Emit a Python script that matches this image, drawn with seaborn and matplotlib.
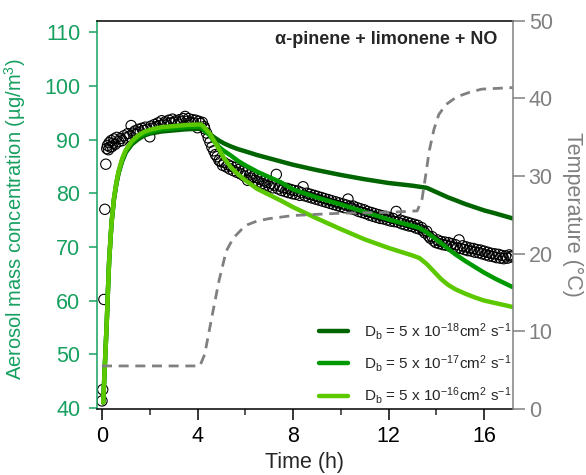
import numpy as np
import pandas as pd
import seaborn as sns
import matplotlib.pyplot as plt
from matplotlib.lines import Line2D

# measured aerosol mass (open circles)
obs_time = [0.00, 0.03, 0.08, 0.12, 0.16, 0.20, 0.23, 0.27, 0.30, 0.34, 0.38, 0.42, 0.46, 0.50,
            0.55, 0.62, 0.70, 0.78, 0.85, 0.92, 1.00, 1.08, 1.15, 1.22, 1.30, 1.38, 1.45, 1.52,
            1.60, 1.68, 1.75, 1.82, 1.90, 2.00, 2.05, 2.12, 2.20, 2.28, 2.35, 2.42, 2.50, 2.58,
            2.65, 2.72, 2.80, 2.88, 2.95, 3.02, 3.10, 3.18, 3.25, 3.32, 3.40, 3.48, 3.55, 3.62,
            3.70, 3.78, 3.85, 3.92, 4.00, 4.05, 4.12, 4.20, 4.28,
            4.30, 4.38, 4.45, 4.52, 4.60, 4.68, 4.75, 4.82, 4.90, 4.97, 5.05, 5.12, 5.20, 5.28,
            5.35, 5.42, 5.50, 5.58, 5.65, 5.72, 5.80, 5.88, 5.95, 6.02, 6.10, 6.18, 6.25, 6.32,
            6.40, 6.48, 6.55, 6.62, 6.70, 6.78, 6.85, 6.92, 7.00,
            7.08, 7.15, 7.22, 7.30, 7.38, 7.45, 7.52, 7.60, 7.68, 7.75, 7.82, 7.90, 7.98, 8.05,
            8.12, 8.20, 8.28, 8.35, 8.42, 8.50, 8.58, 8.65, 8.72, 8.80, 8.88, 8.95, 9.02, 9.10,
            9.18, 9.25, 9.32, 9.40, 9.48, 9.55, 9.62, 9.70, 9.78, 9.85, 9.92, 10.00, 10.08, 10.15,
            10.22, 10.30, 10.38, 10.45, 10.52, 10.60, 10.68, 10.75, 10.82, 10.90, 10.98, 11.05,
            11.12, 11.20, 11.28, 11.35, 11.42, 11.50, 11.58, 11.65, 11.72, 11.80, 11.88, 11.95,
            12.02, 12.10, 12.18, 12.25, 12.32, 12.40, 12.48, 12.55, 12.62, 12.70, 12.78, 12.85,
            12.92, 13.00, 13.08, 13.15, 13.22, 13.30, 13.38,
            13.45, 13.52, 13.60, 13.68, 13.75, 13.82, 13.90, 13.98, 14.05, 14.12, 14.20, 14.28,
            14.35, 14.42, 14.50, 14.58, 14.65, 14.72, 14.80, 14.88, 14.95, 15.02, 15.10, 15.18,
            15.25, 15.32, 15.40, 15.48, 15.55, 15.62, 15.70, 15.78, 15.85, 15.92, 16.00, 16.08,
            16.15, 16.22, 16.30, 16.38, 16.45, 16.52, 16.60, 16.68, 16.75, 16.82, 16.90, 16.98,
            17.05, 17.12, 17.18]
obs_conc = [41.3, 43.4, 60.2, 77.0, 85.4, 88.3, 88.9, 88.1, 89.4, 88.6, 89.8, 88.7, 89.3, 90.1,
            89.1, 90.4, 89.6, 90.2, 89.8, 90.7, 90.3, 91.1, 90.6, 92.6, 91.2, 91.6, 91.0, 91.9,
            91.4, 92.1, 91.7, 92.3, 91.9, 90.5, 92.5, 92.1, 92.8, 92.4, 93.1, 92.6, 93.5, 92.9,
            93.3, 92.7, 93.6, 93.1, 93.8, 93.2, 93.5, 92.9, 93.7, 93.3, 93.9, 94.3, 93.4, 93.9,
            93.2, 93.7, 93.0, 93.6, 92.2, 93.4, 93.0, 93.2, 92.4,
            92.0, 91.2, 90.3, 89.5, 88.6, 87.9, 87.2, 86.8, 86.1, 85.9, 85.2, 85.7, 84.9, 85.3,
            84.5, 85.0, 84.2, 84.8, 83.9, 84.4, 83.6, 84.1, 83.2, 83.8, 82.4, 83.4, 82.8, 83.1,
            82.4, 82.9, 82.1, 82.6, 81.8, 82.3, 81.5, 82.0, 81.3,
            81.8, 81.0, 81.5, 83.5, 80.8, 81.3, 80.5, 81.0, 80.3, 80.9, 80.1, 80.7, 79.9, 80.5,
            79.8, 80.4, 79.6, 80.1, 81.2, 79.5, 80.0, 79.3, 79.8, 79.1, 79.6, 78.9, 79.4, 78.7,
            79.2, 78.5, 79.0, 78.3, 78.8, 78.1, 78.6, 77.9, 78.4, 77.7, 78.2, 77.5, 78.0, 77.3,
            77.8, 78.9, 77.6, 77.1, 77.6, 76.9, 77.3, 76.6, 77.1, 76.4, 76.9, 76.2,
            76.6, 75.9, 76.4, 75.7, 76.2, 75.5, 76.0, 75.3, 75.8, 75.2, 75.7, 75.0,
            75.5, 74.8, 75.3, 74.7, 76.6, 74.6, 75.0, 74.3, 74.8, 74.1, 74.6, 73.9,
            74.4, 73.8, 74.2, 73.5, 74.0, 73.3, 73.6,
            73.0, 72.6, 72.9, 72.0, 71.6, 71.9, 71.1, 70.8, 71.3, 70.6, 71.0, 70.4,
            70.9, 70.3, 70.8, 70.1, 70.6, 69.9, 70.4, 69.8, 71.3, 69.7, 70.2, 69.5,
            70.0, 69.3, 69.8, 69.2, 69.7, 69.0, 69.5, 68.9, 69.4, 68.7, 69.2, 68.5,
            69.0, 68.3, 68.8, 68.2, 68.7, 68.0, 68.6, 67.9, 68.4, 67.8, 68.3, 67.9,
            68.5, 68.1, 68.3]

# model runs for three bulk diffusivities
model_time = [0.05, 0.10, 0.15, 0.20, 0.25, 0.30, 0.40, 0.50, 0.60, 0.70, 0.85, 1.00, 1.25,
              1.50, 1.75, 2.00, 2.50, 3.00, 3.50, 4.00, 4.15, 4.30, 4.50, 4.70, 4.90, 5.10,
              5.40, 5.70, 6.00, 6.50, 7.00, 7.50, 8.00, 9.00, 10.00, 11.00, 12.00, 13.00,
              13.30, 13.60, 13.90, 14.20, 14.50, 14.80, 15.20, 15.60, 16.00, 16.50, 17.20]
db_18 = [41.0, 46.0, 51.0, 56.0, 62.0, 67.5, 74.5, 78.8, 81.7, 83.8, 86.0, 87.6, 89.1,
         90.0, 90.7, 91.1, 91.5, 91.7, 91.9, 92.0, 92.0, 91.7, 91.1, 90.4, 89.8, 89.3,
         88.7, 88.2, 87.8, 87.1, 86.5, 85.9, 85.3, 84.3, 83.4, 82.6, 81.9, 81.4,
         81.2, 81.0, 80.4, 79.8, 79.2, 78.7, 78.0, 77.4, 76.8, 76.2, 75.3]
db_17 = [41.0, 46.0, 51.0, 56.0, 62.0, 67.5, 74.5, 78.9, 81.8, 84.0, 86.3, 87.9, 89.4,
         90.4, 91.0, 91.4, 91.9, 92.1, 92.3, 92.4, 92.4, 91.6, 90.8, 89.6, 88.6, 87.9,
         87.0, 86.0, 85.2, 84.0, 83.0, 82.0, 80.7, 79.2, 77.9, 76.5, 75.1, 73.9,
         73.5, 72.7, 71.7, 70.7, 69.6, 68.6, 67.4, 66.3, 65.2, 64.0, 62.5]
db_16 = [41.0, 46.0, 51.0, 56.0, 62.0, 67.5, 74.5, 79.0, 82.0, 84.2, 86.5, 88.1, 89.7,
         90.7, 91.4, 91.8, 92.3, 92.5, 92.7, 92.8, 92.8, 92.2, 91.2, 89.7, 88.2, 86.6,
         84.8, 83.5, 82.4, 80.8, 79.7, 78.6, 77.4, 75.3, 73.3, 71.4, 69.8, 68.4,
         67.9, 66.8, 65.4, 64.0, 62.9, 62.1, 61.3, 60.6, 60.0, 59.5, 58.8]

# chamber temperature (right axis)
temp_time = [0.00, 4.10, 4.30, 4.60, 4.90, 5.20, 5.50, 6.00, 6.50, 7.00, 8.00, 10.00, 12.00,
             13.20, 13.40, 13.55, 13.70, 13.90, 14.10, 14.40, 14.85, 15.40, 15.90, 17.20]
temp_c = [5.5, 5.5, 7.0, 11.8, 16.5, 20.3, 22.0, 23.6, 24.2, 24.5, 24.9, 25.2, 25.3,
          25.5, 27.0, 30.0, 33.2, 36.0, 37.9, 39.2, 40.2, 40.8, 41.2, 41.4]

labels = ['D$_b$ = 5 x 10$^{-18}$cm$^2$ s$^{-1}$',
          'D$_b$ = 5 x 10$^{-17}$cm$^2$ s$^{-1}$',
          'D$_b$ = 5 x 10$^{-16}$cm$^2$ s$^{-1}$']
line_colors = ['#006400', '#009a00', '#5cc800']

green = '#17a060'
grey = '#808080'

sns.set_style('ticks')
plt.rcParams['font.family'] = ['Liberation Sans', 'DejaVu Sans']
plt.rcParams['mathtext.default'] = 'regular'

fig = plt.figure(figsize=(5.86, 4.75), dpi=100)
ax = fig.add_axes([0.1655, 0.139, 0.7095, 0.817])
ax2 = ax.twinx()

sns.scatterplot(x=obs_time, y=obs_conc, ax=ax, marker='o', s=55,
                facecolor='none', edgecolor='black', linewidth=0.8, zorder=2)
for y, c in zip([db_18, db_17, db_16], line_colors):
    sns.lineplot(x=model_time, y=y, ax=ax, color=c, lw=3.2, sort=False,
                 estimator=None, zorder=3)

sns.lineplot(x=temp_time, y=temp_c, ax=ax2, color=grey, lw=2.0,
             linestyle=(0, (3.6, 2.4)), sort=False, estimator=None)

ax.set_xlim(-0.21, 17.2)
ax.set_ylim(39.8, 112.1)
ax2.set_ylim(-0.05, 50.0)
ax.set_xticks([0, 4, 8, 12, 16])
ax.set_xticks([2, 6, 10, 14], minor=True)
ax.set_yticks([40, 50, 60, 70, 80, 90, 100, 110])
ax2.set_yticks([0, 10, 20, 30, 40, 50])

ax.set_xlabel('Time (h)', fontsize=15.5, labelpad=4)
ax.set_ylabel('Aerosol mass concentration (µg/m$^3$)', fontsize=14.5, color=green)
ax.yaxis.set_label_coords(-0.166, 0.49)
ax2.set_ylabel('Temperature (°C)', fontsize=15.5, color=grey, rotation=270, labelpad=22)

ax.tick_params(axis='x', which='major', length=8, width=1.1, labelsize=15.5, colors='black', pad=4)
ax.tick_params(axis='x', which='minor', length=4, width=1.1)
ax.tick_params(axis='y', length=6, width=1.1, labelsize=15.5, colors=green, pad=6)
ax2.tick_params(axis='y', length=8.5, width=1.1, labelsize=15.5, colors=grey, pad=3)

for sp in ['left', 'bottom', 'top', 'right']:
    ax.spines[sp].set_linewidth(1.1)
    ax2.spines[sp].set_linewidth(1.1)
ax.spines['left'].set_color(green)
ax.spines['bottom'].set_color('black')
ax.spines['top'].set_color('black')
ax.spines['right'].set_visible(False)
ax2.spines['right'].set_color(grey)
ax2.spines['left'].set_visible(False)
ax2.spines['top'].set_visible(False)
ax2.spines['bottom'].set_visible(False)

ax.text(0.962, 0.951, 'α-pinene + limonene + NO', transform=ax.transAxes,
        ha='right', va='center', fontsize=13, fontweight='bold')

handles = [Line2D([0], [0], color=c, lw=3.2) for c in line_colors]
leg = ax2.legend(handles, labels, loc='lower left', bbox_to_anchor=(0.508, -0.021),
                 frameon=False, fontsize=11, handlelength=1.9, handletextpad=1.05,
                 labelspacing=0.75, borderaxespad=0.3)

fig.savefig('out.png', dpi=100)
